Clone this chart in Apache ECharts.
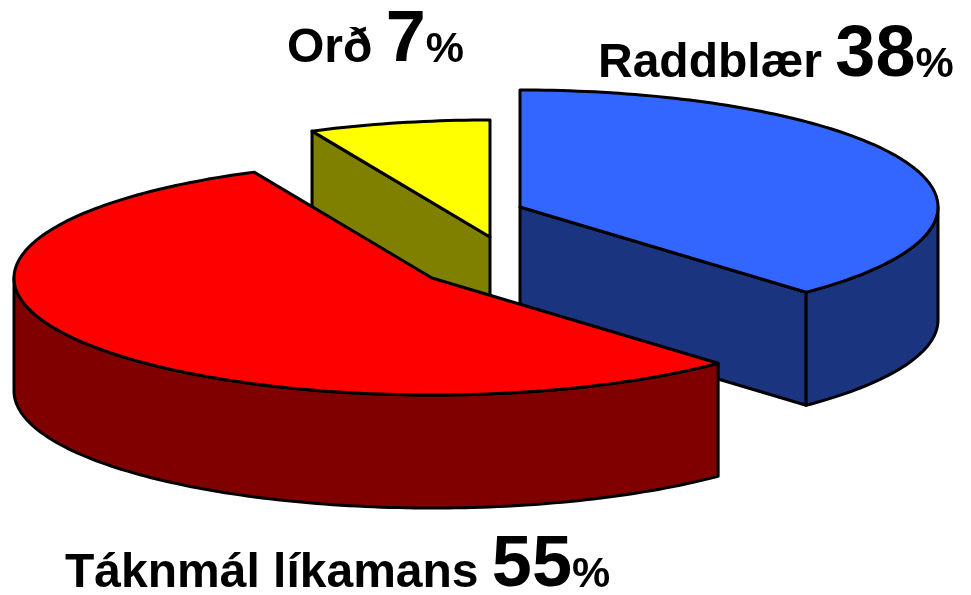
<!DOCTYPE html>
<html>
<head>
<meta charset="utf-8">
<script src="https://cdn.jsdelivr.net/npm/echarts@6.0.0/dist/echarts.min.js"></script>
<style>
html,body{margin:0;padding:0;background:#fff;}
#main{width:971px;height:595px;}
</style>
</head>
<body>
<div id="main"></div>
<script>
var names = ['Raddblær', 'Táknmál líkamans', 'Orð'];
var values = [38, 55, 7];
var topColors = ['#3366ff', '#ff0000', '#ffff00'];
var sideColors = ['#1a3480', '#800000', '#808000'];

// ellipse of the pie, thickness, center
var RX = 418, RY = 117, DEPTH = 113;
var CX = 476, CY = 242;
// how far each slice is pulled out
var explode = [[44, -35], [-44, 36], [14, -5]];
// label left / baseline
var labelPos = [[598, 78], [65, 588], [287, 63]];

var FONT = '"Liberation Sans", Arial, sans-serif';
var total = 0;
for (var k = 0; k < values.length; k++) total += values[k];

function sliceCenter(i){
	return [CX + explode[i][0], CY + explode[i][1]];
}

function renderItem(params, api){
	var i = params.dataIndex;
	var before = 0;
	for (var j = 0; j < i; j++) before += values[j];
	var a0 = before / total * Math.PI * 2;
	var a1 = (before + api.value(0)) / total * Math.PI * 2;
	var c = sliceCenter(i);
	var cx = c[0], cy = c[1];

	// slices further back get drawn first
	var rank = 0;
	for (var m = 0; m < values.length; m++){
		if (sliceCenter(m)[1] < cy) rank++;
	}
	var zb = rank * 10;

	function pt(a, dz){
		return [cx + RX * Math.sin(a), cy - RY * Math.cos(a) + dz];
	}
	function arc(s, e, dz){
		var n = Math.max(2, Math.ceil((e - s) / 0.02));
		var pts = [];
		for (var t = 0; t <= n; t++) pts.push(pt(s + (e - s) * t / n, dz));
		return pts;
	}
	function poly(points, fill, z2){
		return {
			type:'polygon',
			shape:{points:points},
			style:{fill:fill, stroke:'#000', lineWidth:3, lineJoin:'round'},
			z2:z2
		};
	}

	var children = [];
	var apex = [cx, cy], apexB = [cx, cy + DEPTH];

	// radial face at the start edge
	if (Math.sin(a0) < -0.01){
		var p = pt(a0, 0), pb = pt(a0, DEPTH);
		children.push(poly([apex, p, pb, apexB], sideColors[i], zb + 1));
	}
	// radial face at the end edge
	if (Math.sin(a1) > 0.01){
		var q = pt(a1, 0), qb = pt(a1, DEPTH);
		children.push(poly([apex, q, qb, apexB], sideColors[i], zb + 1));
	}
	// outer curved wall, front half only
	var s0 = Math.max(a0, Math.PI / 2), s1 = Math.min(a1, Math.PI * 1.5);
	if (s1 > s0){
		var wall = arc(s0, s1, 0).concat(arc(s0, s1, DEPTH).reverse());
		children.push(poly(wall, sideColors[i], zb + 2));
	}
	// top
	children.push(poly([apex].concat(arc(a0, a1, 0)), topColors[i], zb + 3));

	return {type:'group', children:children};
}

var graphics = [];
for (var g = 0; g < names.length; g++){
	graphics.push({
		type:'text',
		x:labelPos[g][0],
		y:labelPos[g][1] + 14,
		style:{
			text:'{n|' + names[g] + ' }{v|' + values[g] + '}{p|%}',
			align:'left',
			verticalAlign:'bottom',
			fill:'#000',
			rich:{
				n:{fontFamily:FONT, fontWeight:'bold', fontSize:48, lineHeight:48, verticalAlign:'bottom', padding:[0,0,4,0], fill:'#000'},
				v:{fontFamily:FONT, fontWeight:'bold', fontSize:72, lineHeight:72, verticalAlign:'bottom', fill:'#000'},
				p:{fontFamily:FONT, fontWeight:'bold', fontSize:43, lineHeight:43, verticalAlign:'bottom', padding:[0,0,5,0], fill:'#000'}
			}
		}
	});
}

var mychart = echarts.init(document.getElementById('main'));
var option = {
	animation:false,
	backgroundColor:'#fff',
	graphic:graphics,
	series:[{
		type:'custom',
		coordinateSystem:'none',
		renderItem:renderItem,
		data:values
	}]
};
mychart.setOption(option);
</script>
</body>
</html>
